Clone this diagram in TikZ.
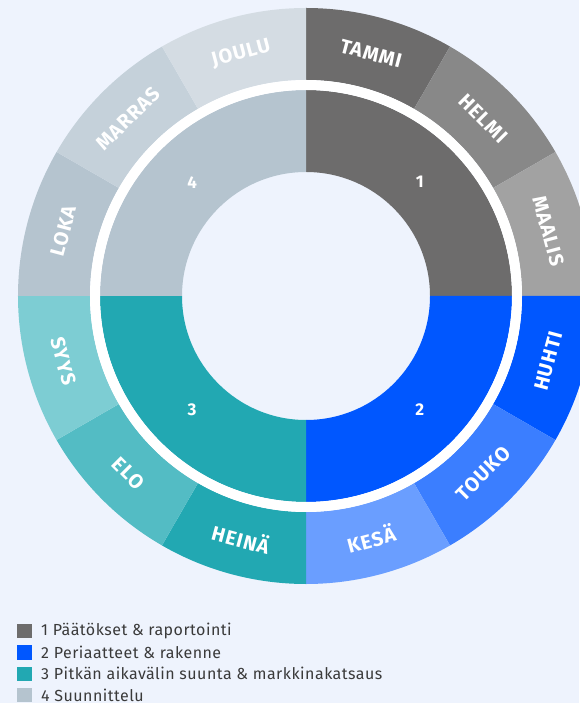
\documentclass[tikz,border=0pt]{standalone}
\usepackage{fontspec}
\setmainfont{Fira Sans}
\newfontfamily\ringfont[LetterSpace=5]{Fira Sans}
\newfontfamily\legendfont[LetterSpace=3]{Fira Sans}
\usetikzlibrary{positioning}

\definecolor{pagebg}{HTML}{EEF3FD}
\definecolor{legendtext}{HTML}{3A3A3A}
% phase colours
\definecolor{phaseA}{HTML}{6D6C6C}
\definecolor{phaseB}{HTML}{0057FF}
\definecolor{phaseC}{HTML}{22A8B2}
\definecolor{phaseD}{HTML}{B5C4CF}
% month shades
\definecolor{helmi}{HTML}{888888}
\definecolor{maalis}{HTML}{A2A2A2}
\definecolor{touko}{HTML}{3B7EFF}
\definecolor{kesa}{HTML}{6A9EFF}
\definecolor{elo}{HTML}{53BCC4}
\definecolor{syys}{HTML}{7DCDD3}
\definecolor{marras}{HTML}{C5D1DA}
\definecolor{joulu}{HTML}{D4DCE3}

\begin{document}
\begin{tikzpicture}[x=1pt,y=1pt]
        \tikzset{monthlabel/.style={text=white,inner sep=0pt,
                font=\ringfont\bfseries\fontsize{20}{20}\selectfont},
            phaselabel/.style={text=white,inner sep=0pt,
                font=\ringfont\bfseries\fontsize{17}{17}\selectfont},
            swatch/.style={minimum size=14.5pt,inner sep=0pt},
            legendentry/.style={text=legendtext,inner sep=0pt,
                font=\legendfont\fontsize{16}{16}\selectfont}}
        \useasboundingbox[fill=pagebg] (-306,296) rectangle (273,-407);
        % outer ring: months
        \foreach \a/\col/\name/\txt in {90/phaseA/tammi/TAMMI,60/helmi/helmi/HELMI,
                30/maalis/maalis/MAALIS,0/phaseB/huhti/HUHTI,-30/touko/touko/TOUKO,
                -60/kesa/kesa/KESÄ,-90/phaseC/heina/HEINÄ,-120/elo/elo/ELO,
                -150/syys/syys/SYYS,180/phaseD/loka/LOKA,150/marras/marras/MARRAS,
                120/joulu/joulu/JOULU}{
            \fill[\col] (\a:288) arc[start angle=\a,delta angle=-30,radius=288]
                -- (\a-30:216) arc[start angle=\a-30,delta angle=30,radius=216] -- cycle;
            \pgfmathsetmacro\mid{\a-15}
            \pgfmathsetmacro\rot{\mid>0 ? \mid-90 : \mid+90}
            \node[monthlabel,rotate=\rot] (\name) at (\mid:251) {\txt};
        }
        % inner ring: phases
        \foreach \a/\col/\num in {90/phaseA/1,0/phaseB/2,-90/phaseC/3,180/phaseD/4}{
            \fill[\col] (\a:206) arc[start angle=\a,delta angle=-90,radius=206]
                -- (\a-90:124) arc[start angle=\a-90,delta angle=90,radius=124] -- cycle;
            \node[phaselabel] (phase\num) at (\a-45:161) {\num};
        }
        \draw[white,line width=10pt] (0,0) circle[radius=211];
        % legend
        \node[swatch,fill=phaseA] (sw1) at (-281.5,-335) {};
        \node[swatch,fill=phaseB,below=6.5pt of sw1] (sw2) {};
        \node[swatch,fill=phaseC,below=6.5pt of sw2] (sw3) {};
        \node[swatch,fill=phaseD,below=6.5pt of sw3] (sw4) {};
        \node[legendentry,right=9pt of sw1] (leg1) {1 Päätökset \& raportointi};
        \node[legendentry,right=9pt of sw2] (leg2) {2 Periaatteet \& rakenne};
        \node[legendentry,right=9pt of sw3] (leg3) {3 Pitkän aikavälin suunta \& markkinakatsaus};
        \node[legendentry,right=9pt of sw4] (leg4) {4 Suunnittelu};
    \end{tikzpicture}
\end{document}
